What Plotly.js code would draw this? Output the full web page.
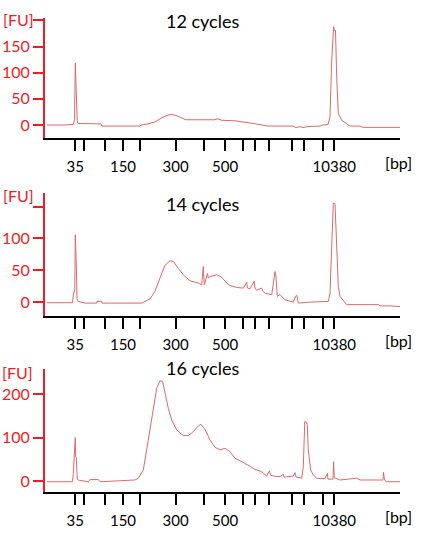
<!DOCTYPE html>
<html>
<head>
<meta charset="utf-8">
<script src="https://cdn.plot.ly/plotly-3.0.1.min.js"></script>
<style>html,body{margin:0;padding:0;background:#fff;}#chart{width:422px;height:545px;}</style>
</head>
<body>
<div id="chart"></div>
<script>
// Ladder (bp) and their migration times (s, arbitrary scale)
const ladderBp   = [35, 50, 100, 150, 200, 300, 400, 500, 600, 700, 1000, 2000, 3000, 7000, 10380];
const ladderTime = [8.1, 10.5, 16.6, 21.6, 26.5, 36.5, 44.4, 50.5, 55.5, 58.9, 62.9, 69.3, 72.8, 78.3, 81.4];
const labelledBp = [35, 150, 300, 500, 10380];

const panelTitles = ["12 cycles", "14 cycles", "16 cycles"];

// 12 cycles trace
const time12 = [0.08,3.76,4.6,4.9,7.53,7.87,8.10,8.24,8.43,8.63,8.86,10.84,13.67,15.37,15.65,26.41,26.69,28.67,30.66,32.64,34.33,35.47,36.32,37.73,39.43,43.39,47.64,48.21,49.05,49.62,53.30,57.54,58.39,62.64,69.71,70.56,71.69,72.54,73.68,77.36,78.21,79.62,80.19,80.67,81.04,81.21,81.40,81.74,82.08,82.54,83.50,84.43,85.85,88.68,89.54,100];
const fu12   = [0,0,-1,0,1,10,118,80,78,8,3,3,2,2,-2,-2,0,2,6,14,19,20,19,15,10,10,10,12,11,9,8,5,3,-2,-2,-5,-3,-5,-3,-2,0,1,16,124,175,188,180,181,92,22,9,5,-2,-2,-4.5,-4.5];

// 14 cycles trace
const time14 = [0.08,7.30,7.53,7.95,8.10,8.21,8.38,8.58,8.94,10.84,14.15,14.24,15.57,15.65,26.89,29.24,30.66,32.07,33.49,34.90,35.83,37.25,38.66,40.56,42.91,43.87,44.32,44.61,45.29,45.51,45.74,46.22,48.12,49.53,50.95,51.88,53.78,55.65,56.61,56.84,57.54,58.76,58.96,59.44,60.85,61.22,61.79,63.69,64.62,64.90,65.27,66.04,66.52,67.45,69.80,70.56,70.85,71.21,74.53,77.36,79.71,80.19,80.70,81.12,81.60,82.08,82.54,83.02,84.91,93.86,94.34,97.17,99.52,100];
const fu14   = [-1,-1,11,20,106,64,60,5,1,-1.6,-1.6,1,1,-1.6,-1.6,5,17,38,58,65,64,53,43,33.5,30,27,56,27,38,45,38,40,43,39,30,26,23,22,31,22,21,33,21,19,22,17,14,11.5,48,40,9,12,9,3.6,0,10,10,-1.6,0,1,1,14,113,155.6,155,72,24.5,9,-4,-4,-6,-6,-7,-7];

// 16 cycles trace
const time16 = [0.08,7.30,7.53,8.10,8.21,8.38,8.66,8.94,9.43,11.77,12.26,14.61,15.09,23.58,24.99,25.93,27.34,28.30,29.24,30.17,31.13,32.07,32.83,33.49,34.42,35.38,36.80,38.66,40.08,41.49,42.91,43.67,44.81,46.22,47.64,49.05,50.47,51.88,53.30,55.19,57.06,58.96,60.85,62.27,63.06,63.34,64.14,66.04,66.97,67.17,67.93,69.80,70.28,70.56,72.18,72.63,73.05,73.53,73.76,74.04,74.72,75.46,76.42,78.77,79.42,79.62,81.04,81.21,81.40,83.02,87.74,88.68,95.19,95.33,95.61,96.24,100];
const fu16   = [-1,-1,18,100,56,55,5,3,2,-1,4,4,-1,1.4,3,7,26,72,121,171,213,230,228,202,167,140,117.5,104.5,104.5,113.6,126.7,130.5,119,94.6,78,71.7,75.6,67.8,52.7,45,35.8,27.5,22,12,24,14,12,10.6,16,10,10,12,20,10,7,33,137,135,130,72,26,14.4,7,6,18,5,5,45,8,3,7,3,3,20.6,3,-1,-1];

const times = [time12, time14, time16];
const values = [fu12, fu14, fu16];

// y-axis ticks per panel
const yTickVals = [[0,50,100,150,200],[0,50,100,150],[0,100,200]];
const yTickText = [["0","50","100","150",""],["0","50","100",""],["0","100","200"]];

const W = 422, H = 545;
const FONT = "Lato, 'Open Sans', sans-serif";
const RED = "#ee1c25";
const LINE = "#e06868";

// panel geometry (pixels)
const panels = [
  {top: 18, bottom: 138.3, yr: [-25.4, 204.5]},
  {top: 192.7, bottom: 315.7, yr: [-21.4, 172]},
  {top: 369, bottom: 491.7, yr: [-23.8, 257]}
];
const xLeft = 45, xRight = 400;

const xTickText = ladderBp.map(b => labelledBp.includes(b) ? String(b) : "");

const data = [];
const layout = {
  width: W, height: H,
  margin: {l: 0, r: 0, t: 0, b: 0},
  paper_bgcolor: "#fff", plot_bgcolor: "#fff",
  showlegend: false,
  font: {family: FONT, color: "#000"},
  annotations: []
};

panels.forEach((p, i) => {
  const n = i === 0 ? "" : String(i + 1);
  data.push({
    type: "scatter", mode: "lines",
    x: times[i], y: values[i],
    xaxis: "x" + n, yaxis: "y" + n,
    line: {color: LINE, width: 1},
    hoverinfo: "skip"
  });
  layout["xaxis" + n] = {
    domain: [xLeft / W, xRight / W],
    anchor: "y" + n,
    range: [-0.48, 100],
    showgrid: false, zeroline: false,
    showline: true, linecolor: "#000", linewidth: 2,
    ticks: "outside", ticklen: 11, tickwidth: 2, tickcolor: "#000",
    tickmode: "array", tickvals: ladderTime, ticktext: xTickText,
    tickfont: {family: FONT, size: 15, color: "#000"},
    ticklabelstandoff: 3,
    fixedrange: true
  };
  layout["yaxis" + n] = {
    domain: [(H - p.bottom) / H, (H - p.top) / H],
    anchor: "x" + n,
    range: p.yr,
    showgrid: false, zeroline: false,
    showline: true, linecolor: RED, linewidth: 2,
    ticks: "outside", ticklen: 10, tickwidth: 2, tickcolor: RED,
    tickmode: "array", tickvals: yTickVals[i], ticktext: yTickText[i],
    tickfont: {family: FONT, size: 16, color: RED},
    fixedrange: true
  };
});

const titleY = [21, 204.3, 367.7];
const fuPos = [[18, 19], [18, 195.7], [17.3, 372.3]];
const bpY = [162.7, 340.3, 516.5];
panelTitles.forEach((t, i) => {
  layout.annotations.push({
    text: t, xref: "paper", yref: "paper",
    x: 202 / W, y: 1 - titleY[i] / H, xanchor: "center", yanchor: "middle",
    showarrow: false, font: {family: FONT, size: 18, color: "#000"}
  });
  layout.annotations.push({
    text: "[FU]", xref: "paper", yref: "paper",
    x: fuPos[i][0] / W, y: 1 - fuPos[i][1] / H, xanchor: "center", yanchor: "middle",
    showarrow: false, font: {family: FONT, size: 16, color: RED}
  });
  layout.annotations.push({
    text: "[bp]", xref: "paper", yref: "paper",
    x: 398.3 / W, y: 1 - bpY[i] / H, xanchor: "center", yanchor: "middle",
    showarrow: false, font: {family: FONT, size: 16, color: "#000"}
  });
});

Plotly.newPlot("chart", data, layout, {displayModeBar: false, staticPlot: true});
</script>
</body>
</html>
